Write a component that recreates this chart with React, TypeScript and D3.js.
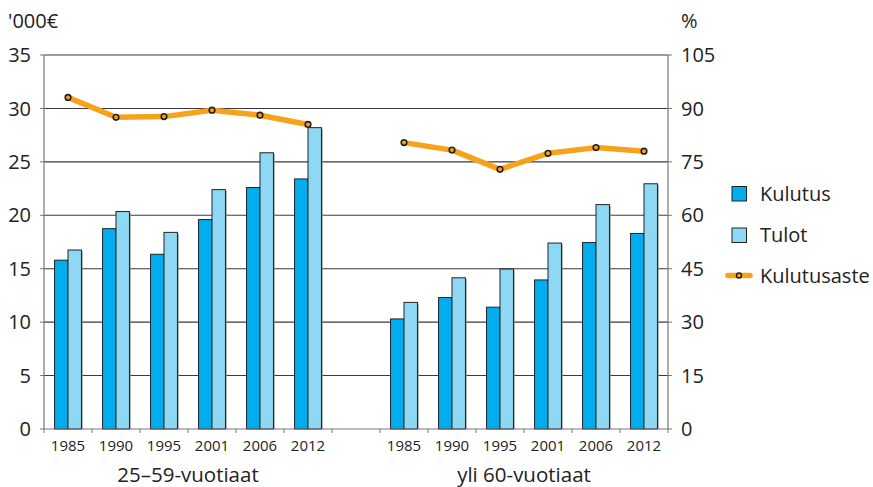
import React from "react";
import * as d3 from "d3";

const years = ["1985", "1990", "1995", "2001", "2006", "2012"];
const groupLabels = ["25–59-vuotiaat", "yli 60-vuotiaat"];
const kulutusA = [15.8, 18.75, 16.35, 19.6, 22.6, 23.4];
const tulotA = [16.75, 20.35, 18.4, 22.4, 25.85, 28.2];
const asteA = [93.1, 87.5, 87.7, 89.5, 88.1, 85.5];
const kulutusB = [10.3, 12.3, 11.4, 13.95, 17.45, 18.3];
const tulotB = [11.85, 14.15, 14.97, 17.4, 21.0, 22.95];
const asteB = [80.4, 78.3, 72.9, 77.4, 79.0, 78.0];
const leftTicks = [0, 5, 10, 15, 20, 25, 30, 35];
const rightTicks = [0, 15, 30, 45, 60, 75, 90, 105];
const seriesNames = ["Kulutus", "Tulot", "Kulutusaste"];

const C_K = "#00AEEF";
const C_T = "#8FD8F5";
const C_L = "#F7A21B";
const FONT = "'Open Sans', sans-serif";

export default function App() {
  const W = 873, H = 487;
  const left = 44, right = 668, top = 55, bottom = 429;
  const keys = [...years.map((y) => "A" + y), "gap", ...years.map((y) => "B" + y)];
  const x = d3.scaleBand<string>().domain(keys).range([left, right]).padding(0);
  const yL = d3.scaleLinear().domain([0, 35]).range([bottom, top]);
  const yR = d3.scaleLinear().domain([0, 105]).range([bottom, top]);
  const bw = x.bandwidth();
  const inner = d3.scaleBand<string>().domain(["K", "T"]).range([bw * 0.22, bw * 0.78]).padding(0);

  const groups = [
    { prefix: "A", k: kulutusA, t: tulotA, a: asteA },
    { prefix: "B", k: kulutusB, t: tulotB, a: asteB },
  ];
  const line = d3.line<[number, number]>().x((d) => d[0]).y((d) => d[1]);

  const boundaries = keys.map((k) => x(k)!).concat([right]);

  return (
    <svg width={W} height={H} style={{ position: "absolute", left: 0, top: 0, background: "#fff" }} fontFamily={FONT}>
      {leftTicks.filter((t) => t > 0).map((t) => (
        <line key={t} x1={left} x2={right} y1={yL(t)} y2={yL(t)} stroke="#3a3a3a" strokeWidth={1.1} />
      ))}
      {groups.map((g) =>
        years.map((yr, i) => {
          const x0 = x(g.prefix + yr)!;
          const bars = [
            { v: g.k[i], c: C_K, key: "K" },
            { v: g.t[i], c: C_T, key: "T" },
          ];
          return bars.map((b) => {
            const bx = x0 + inner(b.key)!;
            const by = yL(b.v);
            const bh = bottom - by;
            return (
              <g key={g.prefix + yr + b.key}>
                <rect x={bx + 1.2} y={by + 1.2} width={inner.bandwidth()} height={bh - 1.2} fill="#8a8a8a" />
                <rect x={bx} y={by} width={inner.bandwidth()} height={bh} fill={b.c} stroke="#222" strokeWidth={1} />
              </g>
            );
          });
        })
      )}
      <line x1={left} x2={left} y1={top} y2={bottom} stroke="#777" strokeWidth={1.2} />
      <line x1={right} x2={right} y1={top} y2={bottom} stroke="#777" strokeWidth={1.2} />
      <line x1={left} x2={right} y1={bottom} y2={bottom} stroke="#777" strokeWidth={1.2} />
      {leftTicks.map((t) => (
        <g key={"l" + t}>
          <line x1={left - 4} x2={left} y1={yL(t)} y2={yL(t)} stroke="#777" />
          <text x={31} y={yL(t)} dy="0.36em" textAnchor="end" fontSize={20} fill="#222">{t}</text>
        </g>
      ))}
      {rightTicks.map((t) => (
        <g key={"r" + t}>
          <line x1={right} x2={right + 4} y1={yR(t)} y2={yR(t)} stroke="#777" />
          <text x={681} y={yR(t)} dy="0.36em" textAnchor="start" fontSize={20} fill="#222">{t}</text>
        </g>
      ))}
      {boundaries.map((b, i) => (
        <line key={"xt" + i} x1={b} x2={b} y1={bottom} y2={bottom + 4} stroke="#777" />
      ))}
      {groups.map((g) =>
        years.map((yr) => (
          <text key={"xl" + g.prefix + yr} x={x(g.prefix + yr)! + bw / 2} y={451} textAnchor="middle" fontSize={15} fill="#222">{yr}</text>
        ))
      )}
      {groups.map((g, gi) => {
        const x0 = x(g.prefix + years[0])!;
        const x1 = x(g.prefix + years[years.length - 1])! + bw;
        return (
          <text key={"gl" + gi} x={(x0 + x1) / 2} y={482} textAnchor="middle" fontSize={20.5} fill="#222">{groupLabels[gi]}</text>
        );
      })}
      {groups.map((g) => {
        const pts: [number, number][] = years.map((yr, i) => [x(g.prefix + yr)! + bw / 2, yR(g.a[i])]);
        return (
          <g key={"ln" + g.prefix}>
            <path d={line(pts)!} fill="none" stroke={C_L} strokeWidth={5.5} strokeLinejoin="round" />
            {pts.map((p, i) => (
              <circle key={i} cx={p[0]} cy={p[1]} r={2.8} fill={C_L} stroke="#222" strokeWidth={1.6} />
            ))}
          </g>
        );
      })}
      <text x={8} y={28} fontSize={20} fill="#222">'000€</text>
      <text x={681} y={28} fontSize={20} fill="#222">%</text>
      <rect x={732} y={186.5} width={14.5} height={14.5} fill={C_K} stroke="#222" />
      <text x={760} y={200.5} fontSize={20} fill="#222">{seriesNames[0]}</text>
      <rect x={732} y={228} width={14.5} height={14.5} fill={C_T} stroke="#222" />
      <text x={760} y={242} fontSize={20} fill="#222">{seriesNames[1]}</text>
      <line x1={728} x2={750} y1={275.5} y2={275.5} stroke={C_L} strokeWidth={5.5} strokeLinecap="round" />
      <circle cx={739} cy={275.5} r={2.5} fill={C_L} stroke="#222" strokeWidth={1.5} />
      <text x={760} y={283} fontSize={20} fill="#222">{seriesNames[2]}</text>
    </svg>
  );
}
